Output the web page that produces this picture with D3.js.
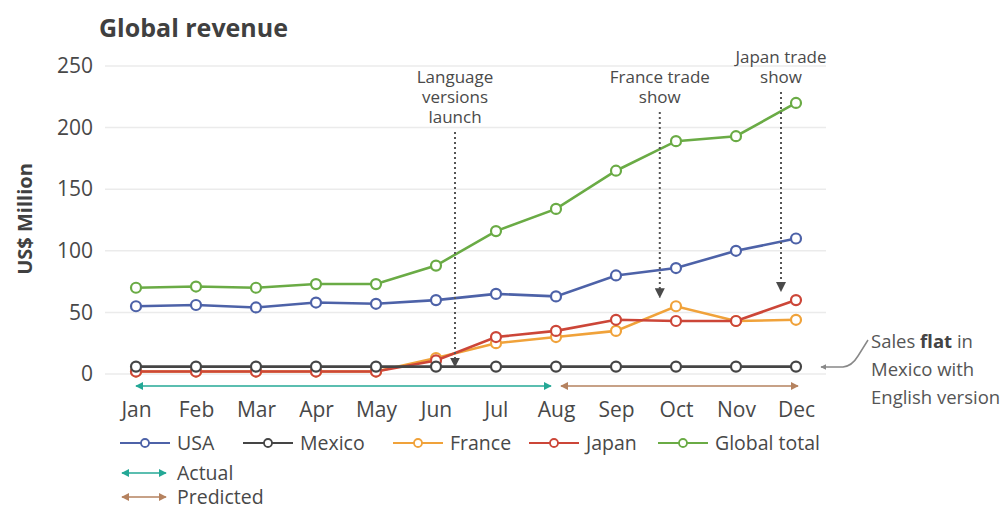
<!DOCTYPE html>
<html><head><meta charset="utf-8">
<script src="https://cdn.jsdelivr.net/npm/d3@7"></script>
<style>body{margin:0;background:#fff}svg{display:block;font-family:"Open Sans",sans-serif}</style>
</head><body><svg id="c" width="1006" height="509"></svg>
<script>
const months = ["Jan","Feb","Mar","Apr","May","Jun","Jul","Aug","Sep","Oct","Nov","Dec"];
const yTicks = [0,50,100,150,200,250];
const usa    = [55,56,54,58,57,60,65,63,80,86,100,110];
const mexico = [6,6,6,6,6,6,6,6,6,6,6,6];
const france = [2,2,2,2,2,13,25,30,35,55,43,44];
const japan  = [2,2,2,2,2,11,30,35,44,43,43,60];
const global = [70,71,70,73,73,88,116,134,165,189,193,220];
const seriesNames = ["USA","Mexico","France","Japan","Global total"];
const annotations = [
  {month:"Jun", lines:["Language","versions","launch"], target:6},
  {month:"Oct", lines:["France trade","show"], target:55, shift:-0.27},
  {month:"Dec", lines:["Japan trade","show"], target:60, shift:-0.25}
];
const periods = [{name:"Actual", from:"Jan", to:"Aug"},{name:"Predicted", from:"Aug", to:"Dec"}];

const colors = {"USA":"#4d62a8","Mexico":"#454545","France":"#f0a23a","Japan":"#cc4638","Global total":"#6aab45","Actual":"#24a896","Predicted":"#b5825f"};
const data = {"USA":usa,"Mexico":mexico,"France":france,"Japan":japan,"Global total":global};

const svg = d3.select("#c");
const x = d3.scalePoint().domain(months).range([136,796]);
const y = d3.scaleLinear().domain([0,250]).range([374,66]);
const txt = "#484848";

svg.append("defs").html(`
<marker id="ah" viewBox="0 0 10 10" refX="9" refY="5" markerWidth="5" markerHeight="5" orient="auto"><path d="M0,0L10,5L0,10z" fill="#4a4a4a"/></marker>
<marker id="la" viewBox="0 0 10 10" refX="1" refY="5" markerWidth="4" markerHeight="4" orient="auto"><path d="M10,0L0,5L10,10z" fill="#888"/></marker>
<marker id="aS" viewBox="0 0 10 10" refX="1" refY="5" markerWidth="5" markerHeight="5" orient="auto"><path d="M0,5L10,0L10,10z" fill="${colors.Actual}"/></marker>
<marker id="aE" viewBox="0 0 10 10" refX="9" refY="5" markerWidth="5" markerHeight="5" orient="auto"><path d="M10,5L0,0L0,10z" fill="${colors.Actual}"/></marker>
<marker id="pS" viewBox="0 0 10 10" refX="1" refY="5" markerWidth="5" markerHeight="5" orient="auto"><path d="M0,5L10,0L10,10z" fill="${colors.Predicted}"/></marker>
<marker id="pE" viewBox="0 0 10 10" refX="9" refY="5" markerWidth="5" markerHeight="5" orient="auto"><path d="M10,5L0,0L0,10z" fill="${colors.Predicted}"/></marker>
`);

// title
svg.append("text").attr("x",99).attr("y",37).attr("font-size",25).attr("font-weight",700).attr("fill","#404040").text("Global revenue");

// y axis
const yAxis = d3.axisLeft(y).tickValues(yTicks).tickSize(0).tickPadding(0);
const gy = svg.append("g").attr("transform","translate(93,0)").call(yAxis);
gy.select(".domain").remove();
gy.selectAll("text").attr("font-size",21).attr("fill",txt).attr("font-family","Open Sans");
svg.append("g").selectAll("line").data(yTicks).join("line")
  .attr("x1",105).attr("x2",826).attr("y1",d=>y(d)).attr("y2",d=>y(d))
  .attr("stroke","#ebebeb").attr("stroke-width",1.5);
svg.append("text").attr("transform","translate(32,219) rotate(-90)").attr("text-anchor","middle")
  .attr("font-size",20).attr("font-weight",700).attr("fill","#404040").text("US$ Million");

// x axis
const xAxis = d3.axisBottom(x).tickSize(0).tickPadding(0);
const gx = svg.append("g").attr("transform","translate(0,402)").call(xAxis);
gx.select(".domain").remove();
gx.selectAll("text").attr("font-size",21).attr("fill",txt).attr("font-family","Open Sans");

// period arrows
periods.forEach(p=>{
  const a = p.name==="Actual";
  svg.append("line").attr("x1",x(p.from)+(a?0:5)).attr("x2",x(p.to)+(a?-5:2)).attr("y1",386).attr("y2",386)
    .attr("stroke",colors[p.name]).attr("stroke-width",1.6)
    .attr("marker-start",`url(#${a?"aS":"pS"})`).attr("marker-end",`url(#${a?"aE":"pE"})`);
});

// series
const line = d3.line().x((d,i)=>x(months[i])).y(d=>y(d));
["Global total","USA","France","Japan","Mexico"].forEach(n=>{
  const g = svg.append("g");
  g.append("path").datum(data[n]).attr("d",line).attr("fill","none").attr("stroke",colors[n]).attr("stroke-width",2.6);
  g.selectAll("circle").data(data[n]).join("circle").attr("cx",(d,i)=>x(months[i])).attr("cy",d=>y(d))
    .attr("r",5).attr("fill","#fff").attr("stroke",colors[n]).attr("stroke-width",2.2);
});

// annotations
annotations.forEach(a=>{
  const cx = x(a.month) + (a.shift||0)*60 + (a.month==="Jun"?19:0);
  const top = a.lines.length===3 ? 77 : (a.month==="Dec"?57:77);
  const t = svg.append("text").attr("text-anchor","middle").attr("font-size",17).attr("fill","#4a4a4a");
  a.lines.forEach((l,i)=>t.append("tspan").attr("x",cx).attr("y",top+6+i*20).text(l));
  const y0 = top + (a.lines.length-1)*20 + 15;
  svg.append("line").attr("x1",cx).attr("x2",cx).attr("y1",y0).attr("y2",y(a.target)-(a.target>10?9:0))
    .attr("stroke","#555").attr("stroke-width",2).attr("stroke-dasharray","2,3").attr("marker-end","url(#ah)");
});

// Mexico note
svg.append("path").attr("d",`M${x("Dec")+25},367 L843,367 Q852,366 858,356 L868,340`)
  .attr("fill","none").attr("stroke","#888").attr("stroke-width",1.5).attr("marker-start","url(#la)");
const note = svg.append("text").attr("font-size",18.5).attr("fill","#555");
const l1 = note.append("tspan").attr("x",871).attr("y",348);
l1.append("tspan").text("Sales ");
l1.append("tspan").attr("font-weight",700).attr("fill","#444").text("flat");
l1.append("tspan").text(" in");
note.append("tspan").attr("x",871).attr("y",376).text("Mexico with");
note.append("tspan").attr("x",871).attr("y",404).text("English version");

// legend
const legX = [120,243,393,529,658];
seriesNames.forEach((n,i)=>{
  const g = svg.append("g").attr("transform",`translate(${legX[i]},443)`);
  g.append("line").attr("x1",0).attr("x2",50).attr("stroke",colors[n]).attr("stroke-width",2);
  g.append("circle").attr("cx",25).attr("r",4).attr("fill","#fff").attr("stroke",colors[n]).attr("stroke-width",1.8);
  g.append("text").attr("x",57).attr("y",7).attr("font-size",19.5).attr("fill",txt).text(n);
});
periods.forEach((p,i)=>{
  const a = p.name==="Actual";
  const g = svg.append("g").attr("transform",`translate(120,${473+i*24})`);
  g.append("line").attr("x1",2).attr("x2",46).attr("stroke",colors[p.name]).attr("stroke-width",1.6)
    .attr("marker-start",`url(#${a?"aS":"pS"})`).attr("marker-end",`url(#${a?"aE":"pE"})`);
  g.append("text").attr("x",57).attr("y",7).attr("font-size",19.5).attr("fill",txt).text(p.name);
});
</script></body></html>
